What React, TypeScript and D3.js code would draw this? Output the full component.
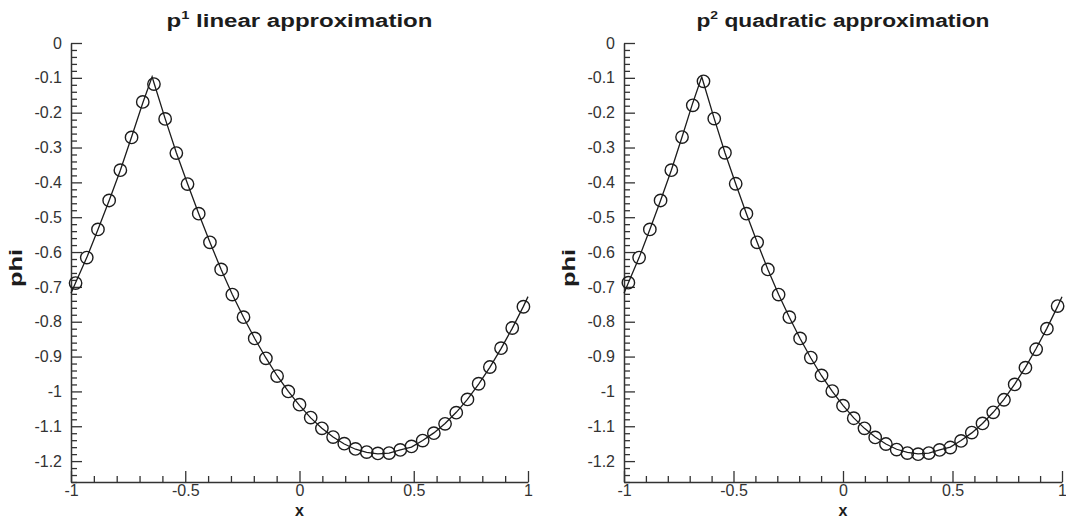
import React, { useRef, useEffect } from "react";
import * as d3 from "d3";

const WIDTH = 1066;
const HEIGHT = 520;
const TOP = 43;
const BOTTOM = 482;
const Y_MIN = -1.26;
const INK = "#1c1c1c";
const AXIS_COLOR = "#333333";
const FONT = "'Liberation Sans', Arial, Helvetica, sans-serif";

// tick labels
const xTicks = [-1, -0.5, 0, 0.5, 1];
const yTicks = [0, -0.1, -0.2, -0.3, -0.4, -0.5, -0.6, -0.7, -0.8, -0.9, -1, -1.1, -1.2];

// cell centres where the numerical solution is plotted
const markerX = [
  -0.98, -0.931, -0.882, -0.833, -0.784, -0.735, -0.686, -0.637, -0.588, -0.539,
  -0.49, -0.441, -0.392, -0.343, -0.294, -0.245, -0.196, -0.147, -0.098, -0.049,
  0, 0.049, 0.098, 0.147, 0.196, 0.245, 0.294, 0.343, 0.392, 0.441,
  0.49, 0.539, 0.588, 0.637, 0.686, 0.735, 0.784, 0.833, 0.882, 0.931, 0.98,
];

const p1Phi = [
  -0.689, -0.616, -0.535, -0.452, -0.365, -0.271, -0.169, -0.118, -0.218, -0.316,
  -0.405, -0.49, -0.572, -0.65, -0.722, -0.787, -0.848, -0.905, -0.956, -1.0,
  -1.038, -1.075, -1.106, -1.131, -1.15, -1.165, -1.174, -1.178, -1.177, -1.168,
  -1.158, -1.141, -1.12, -1.093, -1.061, -1.023, -0.978, -0.93, -0.876, -0.818, -0.757,
];

const p2Phi = [
  -0.688, -0.616, -0.535, -0.452, -0.365, -0.27, -0.179, -0.11, -0.217, -0.315,
  -0.404, -0.49, -0.572, -0.65, -0.722, -0.787, -0.848, -0.903, -0.954, -0.999,
  -1.041, -1.077, -1.106, -1.132, -1.151, -1.167, -1.177, -1.18, -1.177, -1.168,
  -1.161, -1.142, -1.118, -1.092, -1.06, -1.024, -0.98, -0.932, -0.879, -0.82, -0.755,
];

// exact solution (solid line)
const exactX = [
  -1, -0.98, -0.931, -0.882, -0.833, -0.784, -0.735, -0.686, -0.645, -0.637,
  -0.588, -0.539, -0.49, -0.441, -0.392, -0.343, -0.294, -0.245, -0.196, -0.147,
  -0.098, -0.049, 0, 0.049, 0.098, 0.147, 0.196, 0.245, 0.294, 0.343,
  0.392, 0.441, 0.49, 0.539, 0.588, 0.637, 0.686, 0.735, 0.784, 0.833,
  0.882, 0.931, 0.98, 1,
];
const exactPhi = [
  -0.718, -0.688, -0.616, -0.535, -0.452, -0.365, -0.27, -0.172, -0.097, -0.114,
  -0.217, -0.315, -0.404, -0.49, -0.572, -0.65, -0.722, -0.787, -0.848, -0.904,
  -0.955, -1.0, -1.04, -1.076, -1.106, -1.131, -1.151, -1.166, -1.175, -1.179,
  -1.177, -1.168, -1.16, -1.141, -1.119, -1.092, -1.06, -1.023, -0.979, -0.931,
  -0.877, -0.819, -0.756, -0.728,
];

const panels = [
  { sup: "1", title: " linear approximation", phi: p1Phi, left: 71, right: 528, titleLen: 266 },
  { sup: "2", title: " quadratic approximation", phi: p2Phi, left: 624, right: 1062, titleLen: 293 },
];

const fmt = (d) => String(+(+d).toFixed(2));

const drawPanel = (svg, p) => {
  const x = d3.scaleLinear().domain([-1, 1]).range([p.left, p.right]);
  const y = d3.scaleLinear().domain([Y_MIN, 0]).range([BOTTOM, TOP]);

  const xMinor = d3.range(-9, 10).filter((i) => i % 5 !== 0).map((i) => i / 10);
  const yMinor = d3
    .range(1, 64)
    .filter((i) => i % 5 !== 0)
    .map((i) => -i / 50);

  const g = svg.append("g");

  const style = (a) => {
    a.attr("color", AXIS_COLOR).attr("font-family", FONT).attr("font-size", 16);
    a.selectAll(".tick line").attr("stroke-width", 1.3);
    a.select(".domain").attr("stroke-width", 1.5);
  };

  // y axis
  g.append("g")
    .attr("transform", `translate(${p.left},0)`)
    .call(d3.axisLeft(y).tickValues(yMinor).tickSize(-6).tickSizeOuter(0).tickFormat(() => ""))
    .call(style)
    .call((a) => a.select(".domain").remove());
  g.append("g")
    .attr("transform", `translate(${p.left},0)`)
    .call(d3.axisLeft(y).tickValues(yTicks).tickSize(-11).tickSizeOuter(0).tickPadding(9).tickFormat(fmt))
    .call(style)
    .call((a) => a.selectAll("text").attr("fill", AXIS_COLOR));

  // x axis
  g.append("g")
    .attr("transform", `translate(0,${BOTTOM})`)
    .call(d3.axisBottom(x).tickValues(xMinor).tickSize(-6).tickSizeOuter(0).tickFormat(() => ""))
    .call(style)
    .call((a) => a.select(".domain").remove());
  g.append("g")
    .attr("transform", `translate(0,${BOTTOM})`)
    .call(d3.axisBottom(x).tickValues(xTicks).tickSize(-11).tickSizeOuter(0).tickPadding(3).tickFormat(fmt))
    .call(style);

  // exact line
  g.append("path")
    .datum(exactX.map((v, i) => [v, exactPhi[i]]))
    .attr("fill", "none")
    .attr("stroke", INK)
    .attr("stroke-width", 1.3)
    .attr("d", d3.line().x((d) => x(d[0])).y((d) => y(d[1])));

  // numerical solution
  g.append("g")
    .selectAll("circle")
    .data(markerX.map((v, i) => [v, p.phi[i]]))
    .join("circle")
    .attr("cx", (d) => x(d[0]))
    .attr("cy", (d) => y(d[1]))
    .attr("r", 6.2)
    .attr("fill", "none")
    .attr("stroke", INK)
    .attr("stroke-width", 1.4);

  const cx = (p.left + p.right) / 2;

  // title
  const t = g
    .append("text")
    .attr("x", cx)
    .attr("y", 27)
    .attr("text-anchor", "middle")
    .attr("font-family", FONT)
    .attr("font-weight", "bold")
    .attr("font-size", 18)
    .attr("fill", INK)
    .attr("textLength", p.titleLen)
    .attr("lengthAdjust", "spacingAndGlyphs");
  t.append("tspan").text("p");
  t.append("tspan").attr("font-size", 11).attr("dy", -8).text(p.sup);
  t.append("tspan").attr("dy", 8).text(p.title);

  // axis titles
  g.append("text")
    .attr("x", cx)
    .attr("y", 516)
    .attr("text-anchor", "middle")
    .attr("font-family", FONT)
    .attr("font-weight", "bold")
    .attr("font-size", 16)
    .attr("fill", INK)
    .text("x");

  g.append("text")
    .attr("transform", `translate(${p.left - 49},268) rotate(-90)`)
    .attr("text-anchor", "middle")
    .attr("font-family", FONT)
    .attr("font-weight", "bold")
    .attr("font-size", 19)
    .attr("fill", INK)
    .attr("textLength", 38)
    .attr("lengthAdjust", "spacingAndGlyphs")
    .text("phi");
};

export default function App() {
  const ref = useRef(null);

  useEffect(() => {
    const svg = d3.select(ref.current);
    svg.selectAll("*").remove();
    panels.forEach((p) => drawPanel(svg, p));
  }, []);

  return (
    <svg
      ref={ref}
      width={WIDTH}
      height={HEIGHT}
      style={{ position: "absolute", left: 0, top: 0, background: "#fff", display: "block" }}
    />
  );
}
